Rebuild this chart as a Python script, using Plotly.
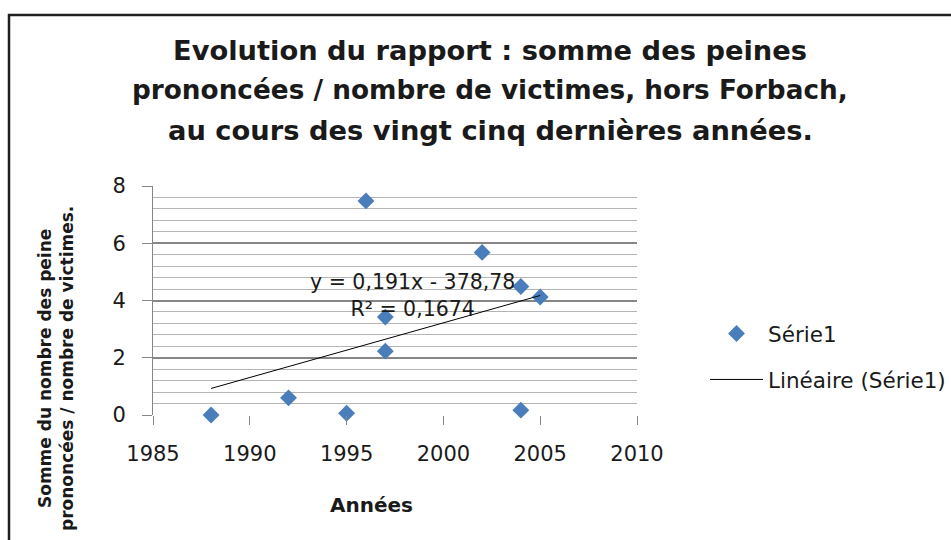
import plotly.graph_objects as go

# Ratio somme des peines / nombre de victimes, par année
annees = [1988, 1992, 1995, 1996, 1997, 1997, 2002, 2004, 2004, 2005]
rapport = [0.0, 0.6, 0.06, 7.48, 3.42, 2.23, 5.68, 4.49, 0.17, 4.12]

# Tendance linéaire affichée sur le graphique
pente = 0.191
ordonnee = -378.78
r2 = 0.1674
tendance_x = [min(annees), max(annees)]
tendance_y = [pente * a + ordonnee for a in tendance_x]

titre_lignes = [
    "Evolution du rapport : somme des peines",
    "prononcées / nombre de victimes, hors Forbach,",
    "au cours des vingt cinq dernières années.",
]
titre_y = "Somme du nombre des peine<br>prononcées / nombre de victimes."
titre_x = "Années"

FONT = "'DejaVu Sans', Verdana, sans-serif"
TXT = "#1a1a1a"
W, H = 951, 540
L, R, T, B = 153, 637, 186, 415


def px(xp):
    return (xp - L) / (R - L)


def py(yp):
    return (B - yp) / (B - T)


fig = go.Figure()
fig.add_trace(go.Scatter(
    x=annees, y=rapport, mode="markers", name="Série1", legendgroup="s",
    marker=dict(symbol="diamond", size=13, color="#4A7EBB"),
    cliponaxis=False,
))
fig.add_trace(go.Scatter(
    x=tendance_x, y=tendance_y, mode="lines", name="Linéaire (Série1)",
    legendgroup="t", line=dict(color="black", width=1),
))

annotations = []
for i, ligne in enumerate(titre_lignes):
    annotations.append(dict(
        text=f"<b>{ligne}</b>", x=px(490), y=py(50 + 40 * i),
        xref="paper", yref="paper", showarrow=False,
        xanchor="center", yanchor="middle",
        font=dict(family=FONT, size=27.3 if i != 1 else 26.3, color=TXT),
    ))
annotations.append(dict(
    text=f"<b>{titre_y}</b>", textangle=-90, align="center",
    x=px(56), y=py(369), xref="paper", yref="paper", showarrow=False,
    xanchor="center", yanchor="middle",
    font=dict(family=FONT, size=17, color=TXT),
))
annotations.append(dict(
    text=f"<b>{titre_x}</b>", x=px(371), y=py(505),
    xref="paper", yref="paper", showarrow=False,
    xanchor="center", yanchor="middle",
    font=dict(family=FONT, size=20, color=TXT),
))
eq = f"y = {pente:.3f}x - {abs(ordonnee):.2f}".replace(".", ",")
annotations.append(dict(
    text=f"{eq}<br>R² = {r2:.4f}".replace("0.", "0,"),
    x=px(412), y=py(295), xref="paper", yref="paper", showarrow=False,
    xanchor="center", yanchor="middle", align="center",
    font=dict(family=FONT, size=20.5, color=TXT),
))

fig.update_layout(
    width=W, height=H,
    margin=dict(l=L, r=W - R, t=T, b=H - B, autoexpand=False),
    paper_bgcolor="white", plot_bgcolor="white",
    showlegend=True,
    legend=dict(
        x=px(705), y=py(313), xanchor="left", yanchor="top",
        font=dict(family=FONT, size=21.5, color=TXT),
        itemwidth=53, tracegroupgap=15, bgcolor="rgba(0,0,0,0)",
    ),
    annotations=annotations,
    shapes=[dict(
        type="rect", xref="paper", yref="paper",
        x0=px(9), x1=px(960), y0=py(15), y1=py(560),
        line=dict(color="#1e1e1e", width=2.5), layer="above",
    )],
)
fig.update_xaxes(
    range=[1985, 2010], dtick=5, tick0=1985,
    showgrid=False, zeroline=False,
    showline=False,
    ticks="outside", ticklen=9, tickcolor="#868686",
    ticklabelstandoff=11,
    tickfont=dict(family=FONT, size=21, color=TXT),
)
fig.update_yaxes(
    range=[0, 8], dtick=2,
    showgrid=True, gridcolor="#868686", gridwidth=1.5,
    minor=dict(dtick=0.4, showgrid=True, gridcolor="#b4b4b4", gridwidth=1),
    zeroline=False,
    showline=True, linecolor="#868686", linewidth=1,
    ticks="outside", ticklen=10, tickcolor="#868686",
    ticklabelstandoff=12,
    tickfont=dict(family=FONT, size=21, color=TXT),
)

fig.write_html("out.html")
